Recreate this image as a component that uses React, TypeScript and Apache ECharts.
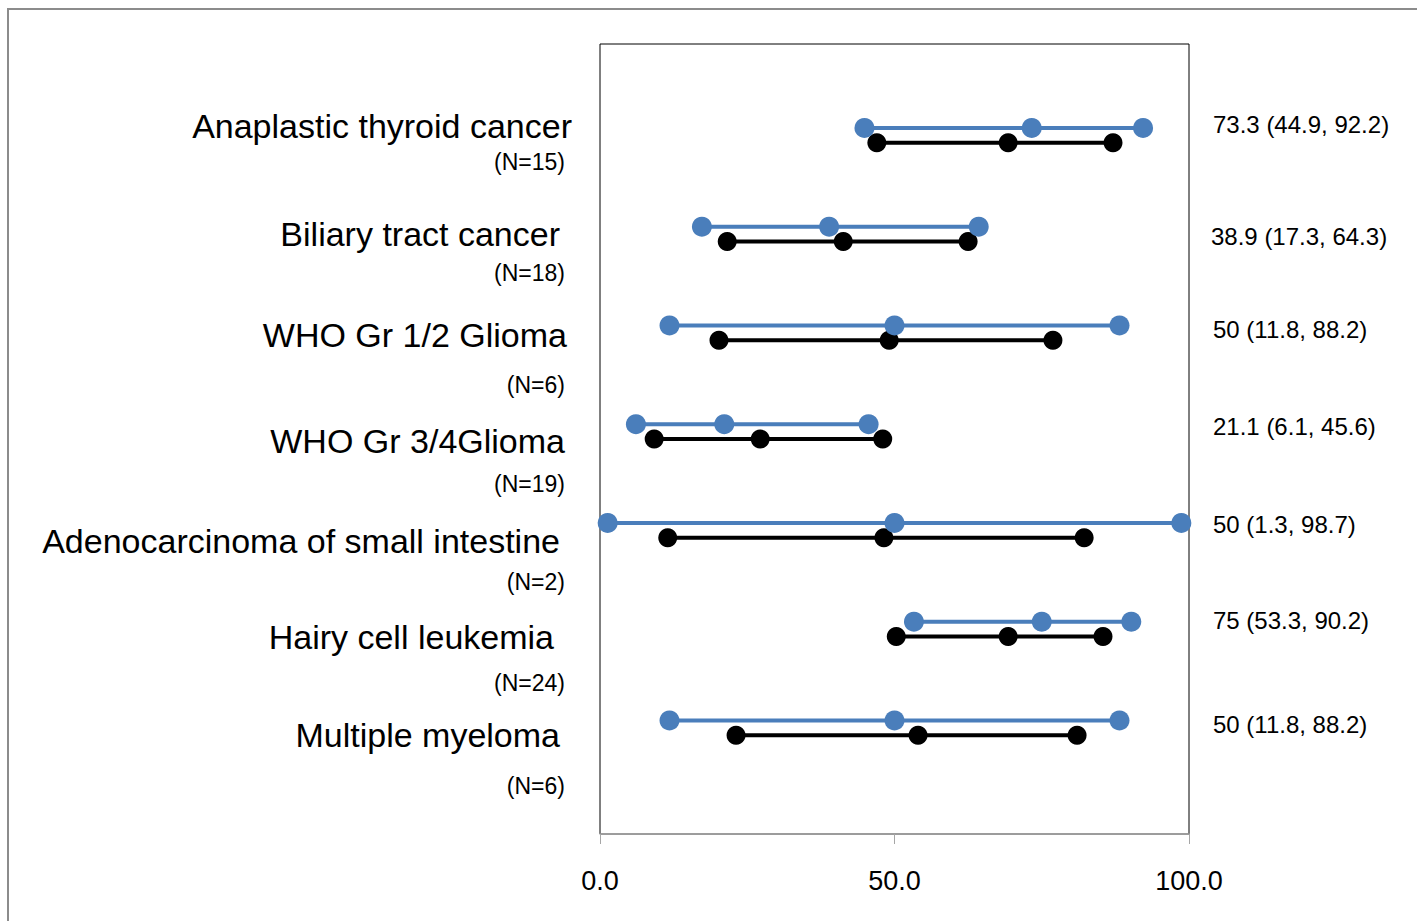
import React, { useEffect, useRef } from "react";
import * as echarts from "echarts";

// ---- data ----
const categories = [
  "Anaplastic thyroid cancer",
  "Biliary tract cancer",
  "WHO Gr 1/2 Glioma",
  "WHO Gr 3/4Glioma",
  "Adenocarcinoma of small intestine",
  "Hairy cell leukemia",
  "Multiple myeloma",
];
const sampleSizes = ["(N=15)", "(N=18)", "(N=6)", "(N=19)", "(N=2)", "(N=24)", "(N=6)"];
const blueLow = [44.9, 17.3, 11.8, 6.1, 1.3, 53.3, 11.8];
const blueMid = [73.3, 38.9, 50, 21.1, 50, 75, 50];
const blueHigh = [92.2, 64.3, 88.2, 45.6, 98.7, 90.2, 88.2];
const blackLow = [47.0, 21.6, 20.2, 9.2, 11.5, 50.3, 23.1];
const blackMid = [69.3, 41.3, 49.1, 27.2, 48.2, 69.3, 54.0];
const blackHigh = [87.1, 62.5, 76.9, 48.0, 82.2, 85.4, 81.0];
const annotations = [
  "73.3 (44.9, 92.2)",
  "38.9 (17.3, 64.3)",
  "50 (11.8, 88.2)",
  "21.1 (6.1, 45.6)",
  "50 (1.3, 98.7)",
  "75 (53.3, 90.2)",
  "50 (11.8, 88.2)",
];
const xTicks = [0, 50, 100];

// ---- layout (pixels for text only) ----
const nameRight = [572, 560, 567, 565, 560, 554, 560];
const nameY = [126, 234, 335, 441, 541, 637, 735];
const nY = [162, 273, 385, 484, 582, 683, 786];
const annX = [1213, 1211, 1213, 1213, 1213, 1213, 1213];
const annY = [124, 236, 329, 426, 524, 620, 724];

const BLUE = "#4a7ebb";
const BLACK = "#000000";
const FONT = "'Liberation Sans', Arial, sans-serif";

export default function App() {
  const ref = useRef<HTMLDivElement>(null);
  useEffect(() => {
    if (!ref.current) return;
    const chart = echarts.init(ref.current, undefined, { renderer: "svg" });
    const n = categories.length;
    const series: any[] = [];
    const mk = (name: string, lo: number[], mid: number[], hi: number[], color: string, off: number, size: number, z: number) => {
      for (let i = 0; i < n; i++) {
        const y = n - i + off;
        series.push({
          name,
          type: "line",
          data: [
            [lo[i], y],
            [mid[i], y],
            [hi[i], y],
          ],
          symbol: "circle",
          symbolSize: size,
          showSymbol: true,
          lineStyle: { color, width: 4 },
          itemStyle: { color },
          z,
          silent: true,
        });
      }
    };
    mk("black", blackLow, blackMid, blackHigh, BLACK, 0, 19, 2);
    mk("blue", blueLow, blueMid, blueHigh, BLUE, 0.15, 20, 3);

    const graphics: any[] = [
      {
        type: "rect",
        shape: { x: 8, y: 9, width: 1440, height: 940 },
        style: { fill: "none", stroke: "#8c8c8c", lineWidth: 2 },
        silent: true,
      },
    ];
    for (let i = 0; i < n; i++) {
      graphics.push({
        type: "text",
        x: nameRight[i],
        y: nameY[i],
        style: { text: categories[i], fontSize: 34, fontFamily: FONT, fill: "#000", align: "right", verticalAlign: "middle" },
      });
      graphics.push({
        type: "text",
        x: 565,
        y: nY[i],
        style: { text: sampleSizes[i], fontSize: 23, fontFamily: FONT, fill: "#000", align: "right", verticalAlign: "middle" },
      });
      graphics.push({
        type: "text",
        x: annX[i],
        y: annY[i],
        style: { text: annotations[i], fontSize: 24, fontFamily: FONT, fill: "#000", align: "left", verticalAlign: "middle" },
      });
    }

    chart.setOption({
      animation: false,
      backgroundColor: "#ffffff",
      grid: {
        left: 600,
        top: 44,
        width: 589,
        height: 790,
        show: true,
        borderColor: "#000",
        borderWidth: 1,
        backgroundColor: "transparent",
      },
      xAxis: {
        type: "value",
        min: xTicks[0],
        max: xTicks[xTicks.length - 1],
        interval: xTicks[1] - xTicks[0],
        axisLine: { show: true, lineStyle: { color: "#a6a6a6", width: 1.5 } },
        axisTick: { show: true, length: 10, lineStyle: { color: "#a6a6a6", width: 1 } },
        splitLine: { show: false },
        axisLabel: {
          fontSize: 27,
          fontFamily: FONT,
          color: "#000",
          margin: 33,
          formatter: (v: number) => v.toFixed(1),
        },
      },
      yAxis: {
        type: "value",
        min: 0,
        max: 8,
        show: false,
        splitLine: { show: false },
      },
      series,
      graphic: graphics,
    });
    return () => chart.dispose();
  }, []);
  return (
    <div
      ref={ref}
      style={{ position: "fixed", left: 0, top: 0, width: 1417, height: 921, background: "#fff" }}
    />
  );
}
